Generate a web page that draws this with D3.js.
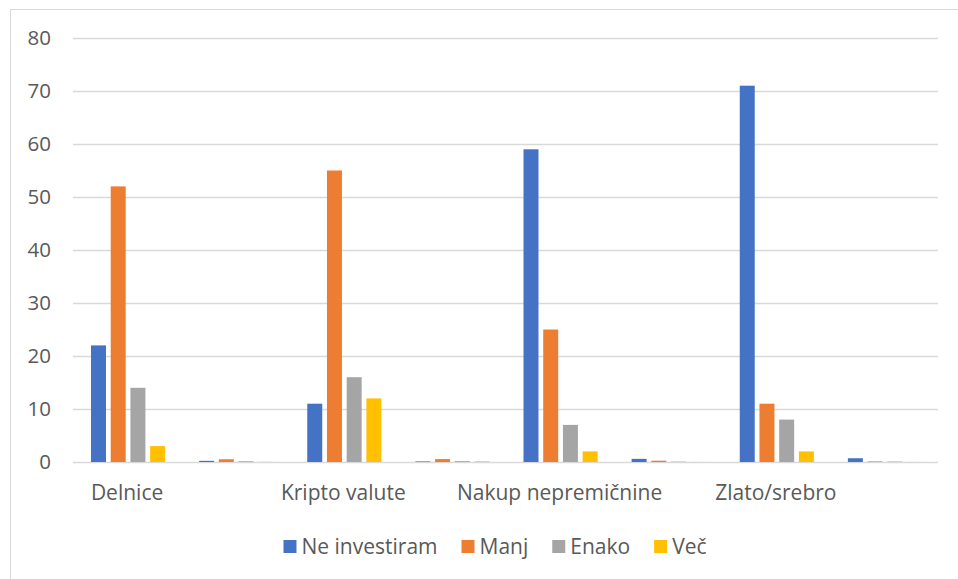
<!DOCTYPE html>
<html>
<head>
<meta charset="utf-8">
<script src="https://cdn.jsdelivr.net/npm/d3@7"></script>
<style>
  html, body { margin: 0; padding: 0; background: #fff; }
  svg { display: block; }
  text { font-family: "Open Sans", "Noto Sans", sans-serif; fill: #595959; }
</style>
</head>
<body>
<svg id="chart" width="958" height="579"></svg>
<script>
// Categories: every investment type is followed by an unlabeled slot holding the shares
const categories = ["Delnice", "", "Kripto valute", "", "Nakup nepremičnine", "", "Zlato/srebro", ""];
const seriesNames = ["Ne investiram", "Manj", "Enako", "Več"];
const seriesColors = ["#4472C4", "#ED7D31", "#A5A5A5", "#FFC000"];

const neInvestiram = [22, 0.22, 11, 0.11, 59, 0.59, 71, 0.71];
const manj         = [52, 0.52, 55, 0.55, 25, 0.25, 11, 0.11];
const enako        = [14, 0.14, 16, 0.16, 7, 0.07, 8, 0.08];
const vec          = [3, 0.03, 12, 0.12, 2, 0.02, 2, 0.02];
const seriesValues = [neInvestiram, manj, enako, vec];

const yTicks = [0, 10, 20, 30, 40, 50, 60, 70, 80];

const svg = d3.select("#chart");
const W = 958, H = 579;
const plot = { left: 73, right: 938, top: 38, bottom: 462 };

// chart frame (light border on left and top)
svg.append("rect")
  .attr("x", 10.5).attr("y", 9.5)
  .attr("width", W + 20).attr("height", H + 20)
  .attr("fill", "#fff").attr("stroke", "#d9d9d9").attr("stroke-width", 1);

const y = d3.scaleLinear().domain([0, 80]).range([plot.bottom, plot.top]);
const x0 = d3.scaleBand().domain(d3.range(categories.length)).range([plot.left, plot.right]).paddingInner(0).paddingOuter(0);
const bw = x0.bandwidth();
const x1 = d3.scaleBand().domain(d3.range(seriesNames.length)).range([18, bw - 16]).paddingInner(0.24).paddingOuter(0);

// gridlines
svg.append("g")
  .selectAll("line")
  .data(yTicks)
  .join("line")
  .attr("x1", plot.left).attr("x2", plot.right)
  .attr("y1", d => Math.round(y(d)) + 0.5).attr("y2", d => Math.round(y(d)) + 0.5)
  .attr("stroke", "#d9d9d9").attr("stroke-width", 1.3);

// y axis labels
const yAxis = d3.axisLeft(y).tickValues(yTicks).tickSize(0).tickPadding(0);
const gy = svg.append("g").attr("transform", `translate(${plot.left - 22},0)`).call(yAxis);
gy.select(".domain").remove();
gy.selectAll("text").attr("font-size", 20.5).attr("fill", "#595959").attr("dy", "0.34em")
  .style("font-family", '"Open Sans", sans-serif');

// bars
const groups = svg.append("g")
  .selectAll("g")
  .data(categories.map((c, i) => i))
  .join("g")
  .attr("transform", i => `translate(${x0(i)},0)`);

groups.selectAll("rect")
  .data(i => seriesValues.map((vals, s) => ({ s, v: vals[i] })))
  .join("rect")
  .attr("x", d => x1(d.s))
  .attr("width", x1.bandwidth())
  .attr("y", d => y(d.v))
  .attr("height", d => y(0) - y(d.v))
  .attr("fill", d => seriesColors[d.s]);

// category axis labels
const xAxis = d3.axisBottom(x0).tickSize(0).tickPadding(0).tickFormat(i => categories[i]);
const gx = svg.append("g").attr("transform", `translate(0,${plot.bottom + 23})`).call(xAxis);
gx.select(".domain").remove();
gx.selectAll("text").attr("font-size", 21).attr("fill", "#595959").attr("dy", "0.7em")
  .style("font-family", '"Open Sans", sans-serif');

// legend
const legend = svg.append("g");
const items = legend.selectAll("g")
  .data(seriesNames)
  .join("g");
items.append("rect")
  .attr("width", 13).attr("height", 13)
  .attr("y", -7)
  .attr("fill", (d, i) => seriesColors[i]);
items.append("text")
  .attr("x", 18).attr("dy", "0.35em")
  .attr("font-size", 21)
  .text(d => d);
let cursor = 0;
items.each(function () {
  const g = d3.select(this);
  g.attr("transform", `translate(${cursor},0)`);
  cursor += 18 + g.select("text").node().getComputedTextLength() + 24;
});
const legendWidth = cursor - 24;
legend.attr("transform", `translate(${495 - legendWidth / 2},547)`);
</script>
</body>
</html>
